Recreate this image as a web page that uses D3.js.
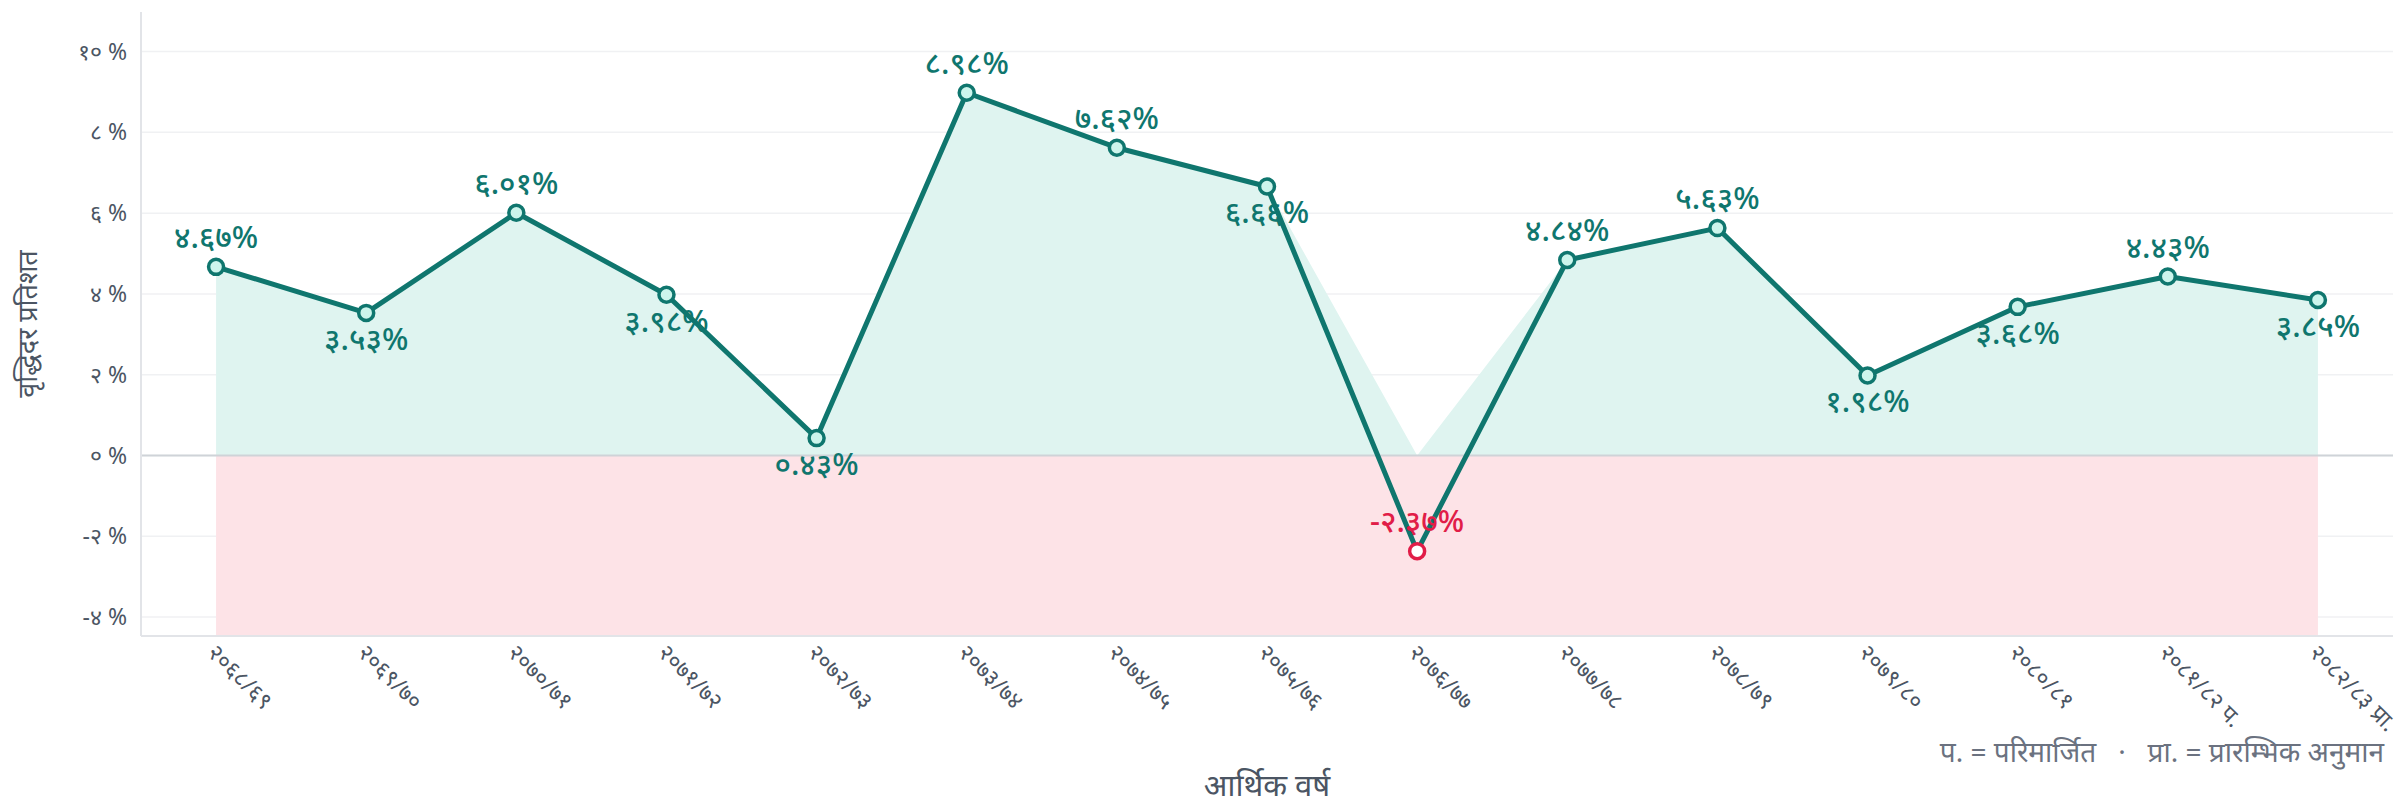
<!DOCTYPE html>
<html>
<head>
<meta charset="utf-8">
<script src="https://cdn.jsdelivr.net/npm/d3@7"></script>
<style>
body { margin: 0; background: #fff; font-family: "Noto Sans", "Noto Sans Devanagari", sans-serif; }
.tick-label { fill: #4b5563; font-size: 23px; }
.x-label { fill: #4b5563; font-size: 23px; }
.axis-title { fill: #4b5563; font-size: 27px; }
.val-label { font-size: 31px; font-weight: 500; }
.note { fill: #6b7280; font-size: 28px; white-space: pre; }
</style>
</head>
<body>
<svg id="chartsvg"></svg>
<script>
// fiscal years (Bikram Sambat)
var years = ["२०६८/६९", "२०६९/७०", "२०७०/७१", "२०७१/७२", "२०७२/७३", "२०७३/७४", "२०७४/७५",
	"२०७५/७६", "२०७६/७७", "२०७७/७८", "२०७८/७९", "२०७९/८०", "२०८०/८१", "२०८१/८२ प.", "२०८२/८३ प्रा."];
// growth rate, percent
var growth = [4.67, 3.53, 6.01, 3.98, 0.43, 8.98, 7.62, 6.66, -2.37, 4.84, 5.63, 1.98, 3.68, 4.43, 3.85];
// which side of the point the value label sits
var labelSide = ["up", "down", "up", "down", "down", "up", "up", "down", "up", "up", "up", "down", "down", "up", "down"];
var yTicks = [-4, -2, 0, 2, 4, 6, 8, 10];

var W = 2405, H = 804;
var margin = {top: 12, right: 12, bottom: 168, left: 141};
var width = W - margin.left - margin.right;
var height = H - margin.top - margin.bottom;

var devDigits = "०१२३४५६७८९";
function toDev(s) { return String(s).replace(/[0-9]/g, function(d) { return devDigits[+d]; }); }

var svg = d3.select("#chartsvg").attr("width", W).attr("height", H);
var g = svg.append("g").attr("transform", "translate(" + margin.left + "," + margin.top + ")");

var x = d3.scalePoint().domain(years).range([0, width]).padding(0.5);
var y = d3.scaleLinear()
	.domain([d3.min(growth) - 2.1, d3.max(growth) + 2])
	.range([height, 0]);

//gridlines
g.selectAll(".grid").data(yTicks).enter().append("line")
	.attr("x1", 0).attr("x2", width)
	.attr("y1", function(d) { return y(d); }).attr("y2", function(d) { return y(d); })
	.attr("stroke", "#f0f1f3").attr("stroke-width", 1.5);

//negative zone
var x0 = x(years[0]), x1 = x(years[years.length - 1]);
g.append("rect")
	.attr("x", x0).attr("width", x1 - x0)
	.attr("y", y(0)).attr("height", y.range()[0] - y(0))
	.attr("fill", "#fde3e7");

//positive area
var pts = years.map(function(d, i) { return {year: d, v: growth[i], side: labelSide[i]}; });
g.append("path").datum(pts)
	.attr("fill", "#dff4f0")
	.attr("d", d3.area()
		.x(function(d) { return x(d.year); })
		.y0(y(0))
		.y1(function(d) { return y(Math.max(0, d.v)); }));

//zero line
g.append("line").attr("x1", 0).attr("x2", width).attr("y1", y(0)).attr("y2", y(0))
	.attr("stroke", "#cfd3d8").attr("stroke-width", 2);

//axes lines
g.append("line").attr("x1", 0).attr("x2", 0).attr("y1", 0).attr("y2", height)
	.attr("stroke", "#e2e4e8").attr("stroke-width", 2);
g.append("line").attr("x1", 0).attr("x2", width).attr("y1", height).attr("y2", height)
	.attr("stroke", "#e2e4e8").attr("stroke-width", 2);

//y tick labels
g.selectAll(".ytl").data(yTicks).enter().append("text")
	.attr("class", "tick-label")
	.attr("x", -14).attr("y", function(d) { return y(d); })
	.attr("dy", "0.35em").attr("text-anchor", "end")
	.text(function(d) { return toDev(d) + " %"; });

//x tick labels
g.selectAll(".xtl").data(years).enter().append("text")
	.attr("class", "x-label")
	.attr("text-anchor", "start")
	.attr("transform", function(d) { return "translate(" + (x(d) - 10) + "," + (height + 18) + ")rotate(45)"; })
	.text(function(d) { return d; });

//line
g.append("path").datum(pts)
	.attr("fill", "none").attr("stroke", "#0f766e").attr("stroke-width", 5)
	.attr("stroke-linejoin", "round")
	.attr("d", d3.line().x(function(d) { return x(d.year); }).y(function(d) { return y(d.v); }));

//points
g.selectAll(".pt").data(pts).enter().append("circle")
	.attr("cx", function(d) { return x(d.year); })
	.attr("cy", function(d) { return y(d.v); })
	.attr("r", 7.5)
	.attr("fill", function(d) { return d.v < 0 ? "#fff" : "#ccf5ec"; })
	.attr("stroke", function(d) { return d.v < 0 ? "#e11d48" : "#0f766e"; })
	.attr("stroke-width", 3.5);

//value labels
g.selectAll(".vl").data(pts).enter().append("text")
	.attr("class", "val-label")
	.attr("text-anchor", "middle")
	.attr("x", function(d) { return x(d.year); })
	.attr("y", function(d) { return y(d.v) + (d.side === "up" ? -19 : 37); })
	.attr("fill", function(d) { return d.v < 0 ? "#e11d48" : "#0f766e"; })
	.text(function(d) { return toDev(d.v.toFixed(2)) + "%"; });

//axis titles
svg.append("text").attr("class", "axis-title")
	.attr("text-anchor", "middle")
	.attr("transform", "translate(37," + (margin.top + height / 2) + ")rotate(-90)")
	.text("वृद्धिदर प्रतिशत");
svg.append("text").attr("class", "axis-title")
	.attr("text-anchor", "middle")
	.style("font-size", "31px")
	.attr("x", margin.left + width / 2).attr("y", 796)
	.text("आर्थिक वर्ष");

svg.append("text").attr("class", "note")
	.attr("text-anchor", "end")
	.attr("x", 2384).attr("y", 762)
	.text("प. = परिमार्जित   ·   प्रा. = प्रारम्भिक अनुमान");
</script>
</body>
</html>
